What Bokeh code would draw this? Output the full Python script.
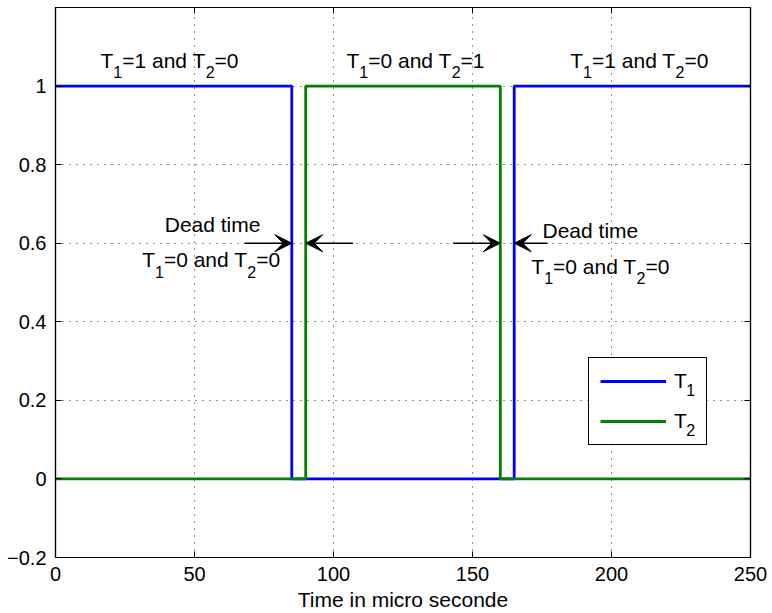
from bokeh.plotting import figure
from bokeh.models import (Range1d, FixedTicker, LinearAxis, Arrow, VeeHead, Label,
                          Legend, LegendItem, CustomJSTickFormatter, BoxAnnotation)
from bokeh.embed import file_html
from bokeh.resources import INLINE

# ---- data ----
t1_x = [0, 85, 165, 250]
t1_y = [1, 0, 1, 1]
t2_x = [0, 90, 160, 250]
t2_y = [0, 1, 0, 0]

x_ticks = [0, 50, 100, 150, 200, 250]
x_tick_labels = ["0", "50", "100", "150", "200", "250"]
y_ticks = [-0.2, 0, 0.2, 0.4, 0.6, 0.8, 1]
y_tick_labels = ["\u22120.2", "0", "0.2", "0.4", "0.6", "0.8", "1"]

# state annotations: segments (text, is_subscript)
state_texts = [
    [("T", 0), ("1", 1), ("=1 and T", 0), ("2", 1), ("=0", 0)],
    [("T", 0), ("1", 1), ("=0 and T", 0), ("2", 1), ("=1", 0)],
    [("T", 0), ("1", 1), ("=1 and T", 0), ("2", 1), ("=0", 0)],
]
state_x = [41, 129.5, 210]
state_y = [1.048, 1.048, 1.048]

dead_texts = [
    [("Dead time", 0)],
    [("T", 0), ("1", 1), ("=0 and T", 0), ("2", 1), ("=0", 0)],
    [("Dead time", 0)],
    [("T", 0), ("1", 1), ("=0 and T", 0), ("2", 1), ("=0", 0)],
]
dead_x = [56.5, 56, 192.4, 196]
dead_y = [0.629, 0.540, 0.615, 0.523]

# arrows (start -> end)
arr_x0 = [68, 107, 143, 177]
arr_x1 = [85, 90, 160, 165]
arr_y = [0.6, 0.6, 0.6, 0.6]

legend_names = ["T", "T"]
legend_subs = ["1", "2"]

FONT = "Liberation Sans"
MAIN_PX = 21
SUB_PX = 16
SUB_DROP = 12
BASE_FIX = 7  # baseline correction in px

# Arial / Liberation Sans advance widths (per 1000 em)
ADV = {" ": 278, "T": 611, "=": 584, "a": 556, "n": 556, "d": 556, "D": 722,
       "e": 556, "i": 222, "m": 833, "t": 278}
for ch in "0123456789":
    ADV[ch] = 556


def seg_width(s, px):
    return sum(ADV.get(c, 556) for c in s) * px / 1000.0


W, H = 772, 613
BL, BR, BT, BB = 55, 22, 7, 56
FW, FH = W - BL - BR, H - BT - BB
X0, X1, Y0, Y1 = 0, 250, -0.2, 1.2


def px2x(px):
    return X0 + px * (X1 - X0) / FW


def px2y(px):
    return Y0 + px * (Y1 - Y0) / FH


p = figure(width=W, height=H, output_backend="svg", toolbar_location=None,
           x_range=Range1d(X0, X1), y_range=Range1d(Y0, Y1),
           min_border_left=BL, min_border_right=BR, min_border_top=BT, min_border_bottom=BB)
p.background_fill_color = "white"
p.border_fill_color = "white"
p.outline_line_color = "black"
p.outline_line_width = 1.2

for ax in (p.xaxis[0], p.yaxis[0]):
    ax.major_tick_in = 6
    ax.major_tick_out = 0
    ax.minor_tick_in = 0
    ax.minor_tick_out = 0
    ax.axis_line_color = "black"
    ax.axis_line_width = 1.2
    ax.major_tick_line_color = "black"
    ax.major_label_text_font = FONT
    ax.major_label_text_font_size = "20px"
    ax.major_label_text_color = "black"

p.xaxis.ticker = FixedTicker(ticks=x_ticks)
p.yaxis.ticker = FixedTicker(ticks=y_ticks)
p.xaxis.major_label_overrides = {t: l for t, l in zip(x_ticks, x_tick_labels)}
p.yaxis.major_label_overrides = {t: l for t, l in zip(y_ticks, y_tick_labels)}
p.xaxis.major_label_standoff = 9
p.yaxis.major_label_standoff = 9
p.xaxis.axis_label = "Time in micro seconde"
p.xaxis.axis_label_text_font = FONT
p.xaxis.axis_label_text_font_size = "21px"
p.xaxis.axis_label_text_font_style = "normal"
p.xaxis.axis_label_text_color = "black"
p.xaxis.axis_label_standoff = 4

# grid
p.xgrid.ticker = FixedTicker(ticks=x_ticks)
p.ygrid.ticker = FixedTicker(ticks=y_ticks)
for g in (p.xgrid, p.ygrid):
    g.grid_line_color = "black"
    g.grid_line_dash = "1 6"
    g.grid_line_width = 1
    g.grid_line_alpha = 0.85

# right / top axes with inward ticks only (no labels)
blank = CustomJSTickFormatter(code="return ''")
for loc, tk in (("right", y_ticks), ("above", x_ticks)):
    a = LinearAxis(ticker=FixedTicker(ticks=tk), formatter=blank,
                   major_tick_in=6, major_tick_out=0, minor_tick_in=0, minor_tick_out=0,
                   major_label_standoff=0, axis_line_color="black", axis_line_width=1.2,
                   major_label_text_font_size="1px")
    p.add_layout(a, loc)

r1 = p.step(t1_x, t1_y, mode="after", line_color="#0000FF", line_width=2.8)
r2 = p.step(t2_x, t2_y, mode="after", line_color="#008000", line_width=2.8)


def rich_label(segs, x, y):
    total = sum(seg_width(s, SUB_PX if sub else MAIN_PX) for s, sub in segs)
    off = -total / 2.0
    for s, sub in segs:
        px = SUB_PX if sub else MAIN_PX
        p.add_layout(Label(x=x, y=y, x_offset=off,
                           y_offset=(-SUB_DROP if sub else 0) + BASE_FIX,
                           text=s, text_align="left", text_baseline="alphabetic",
                           text_font=FONT, text_font_size=f"{px}px", text_color="black"))
        off += seg_width(s, px)


for segs, xx, yy in zip(state_texts, state_x, state_y):
    rich_label(segs, xx, yy)
for segs, xx, yy in zip(dead_texts, dead_x, dead_y):
    rich_label(segs, xx, yy)

for x0, x1, yy in zip(arr_x0, arr_x1, arr_y):
    p.add_layout(Arrow(end=VeeHead(size=17, fill_color="black", line_color="black", line_width=1),
                       x_start=x0, y_start=yy, x_end=x1, y_end=yy,
                       line_width=1.5, line_color="black"))

# legend (box position in screen px from frame bottom-left)
LEG_X, LEG_Y = 533, 112
PAD, GW, LS, LW, ROW, SP = 11, 66, 8, 21, 24, 16
box_h = 2 * PAD + 2 * ROW + SP
box_w = 2 * PAD + GW + LS + LW

# white backing for the legend box (hides grid behind it)
p.add_layout(BoxAnnotation(left=px2x(LEG_X), right=px2x(LEG_X + box_w),
                           bottom=px2y(LEG_Y), top=px2y(LEG_Y + box_h),
                           fill_color="white", fill_alpha=1, line_alpha=0,
                           level="underlay"))

legend = Legend(items=[LegendItem(label=legend_names[0], renderers=[r1]),
                       LegendItem(label=legend_names[1], renderers=[r2])],
                location=(LEG_X, LEG_Y))
legend.border_line_color = "black"
legend.border_line_alpha = 1
legend.border_line_width = 1.5
legend.label_text_font = FONT
legend.label_text_font_size = "21px"
legend.label_text_color = "black"
legend.glyph_width = GW
legend.glyph_height = ROW
legend.label_height = ROW
legend.label_width = LW
legend.label_standoff = LS
legend.spacing = SP
legend.padding = PAD
legend.margin = 0
legend.background_fill_alpha = 0
p.add_layout(legend, "center")

# subscripts of legend labels
sub_px_x = LEG_X + PAD + GW + LS + seg_width("T", 21)
row_centers = [LEG_Y + box_h - PAD - ROW / 2, LEG_Y + box_h - PAD - ROW / 2 - ROW - SP]
for sname, rc in zip(legend_subs, row_centers):
    p.add_layout(Label(x=px2x(sub_px_x), y=px2y(rc - 14), text=sname,
                       text_align="left", text_baseline="alphabetic",
                       y_offset=BASE_FIX,
                       text_font=FONT, text_font_size=f"{SUB_PX}px", text_color="black"))

open("out.html", "w").write(file_html(p, INLINE))
